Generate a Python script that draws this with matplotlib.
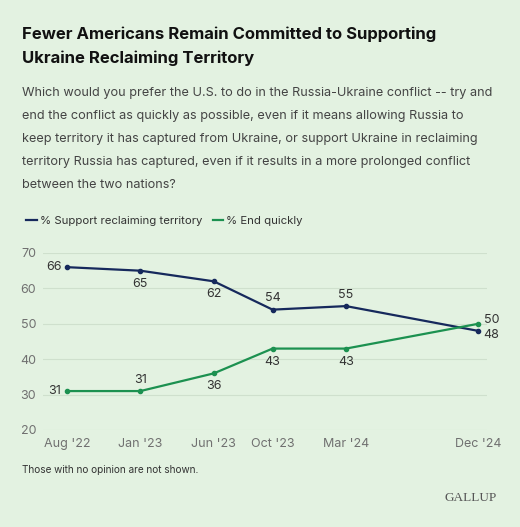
import matplotlib
matplotlib.use("Agg")
import matplotlib.pyplot as plt
from matplotlib.lines import Line2D

months = [0, 5, 10, 14, 19, 28]
tick_labels = ["Aug '22", "Jan '23", "Jun '23", "Oct '23", "Mar '24", "Dec '24"]
support = [66, 65, 62, 54, 55, 48]
end_quickly = [31, 31, 36, 43, 43, 50]
yticks = [20, 30, 40, 50, 60, 70]

BG = "#E3F2E1"
NAVY = "#16295C"
GREEN = "#1C9150"
GRAY = "#707070"
TXT = "#333333"

plt.rcParams['font.family'] = ['Inter', 'DejaVu Sans']

fig = plt.figure(figsize=(5.2, 5.27), dpi=100, facecolor=BG)
ax = fig.add_axes([43/520, 1-430/527, 444/520, 177/527], facecolor=BG)

ax.plot(months, support, color=NAVY, lw=1.6, marker='o', ms=3, clip_on=False, zorder=3)
ax.plot(months, end_quickly, color=GREEN, lw=1.6, marker='o', ms=3, clip_on=False, zorder=3)

ax.set_xlim(-1.63, 28.6)
ax.set_ylim(20, 70)
ax.set_yticks(yticks)
ax.set_xticks(months)
ax.set_xticklabels(tick_labels)
ax.tick_params(axis='both', length=0, labelsize=9, labelcolor=GRAY)
ax.tick_params(axis='y', pad=5)
ax.tick_params(axis='x', pad=6)
ax.grid(axis='y', color="#CFE0CD", lw=0.8)
ax.set_axisbelow(True)
for s in ax.spines.values():
    s.set_visible(False)

# data labels
sup_pos = ['left', 'below', 'below', 'above', 'above', 'right_below']
end_pos = ['left', 'above', 'below', 'below', 'below', 'right_above']

def label(x, y, pos):
    kw = dict(fontsize=9, color=TXT, textcoords='offset points', annotation_clip=False)
    if pos == 'left':
        ax.annotate(str(y), (x, y), xytext=(-4, 0), ha='right', va='center', **kw)
    elif pos == 'below':
        ax.annotate(str(y), (x, y), xytext=(0, -5), ha='center', va='top', **kw)
    elif pos == 'above':
        ax.annotate(str(y), (x, y), xytext=(0, 4), ha='center', va='bottom', **kw)
    elif pos == 'right_below':
        ax.annotate(str(y), (x, y), xytext=(4, -3), ha='left', va='center', **kw)
    elif pos == 'right_above':
        ax.annotate(str(y), (x, y), xytext=(4, 3), ha='left', va='center', **kw)

for x, y, p in zip(months, support, sup_pos):
    label(x, y, p)
for x, y, p in zip(months, end_quickly, end_pos):
    label(x, y, p)

# title and subtitle
fig.text(22/520, 1-46/527, "Fewer Americans Remain Committed to Supporting\nUkraine Reclaiming Territory",
         fontsize=12, fontweight='bold', color="#111111", va='center', ha='left', linespacing=1.7)
subtitle = ("Which would you prefer the U.S. to do in the Russia-Ukraine conflict -- try and\n"
            "end the conflict as quickly as possible, even if it means allowing Russia to\n"
            "keep territory it has captured from Ukraine, or support Ukraine in reclaiming\n"
            "territory Russia has captured, even if it results in a more prolonged conflict\n"
            "between the two nations?")
fig.text(22/520, 1-139/527, subtitle, fontsize=9.15, color="#444444", va='center', ha='left', linespacing=2.2)

# legend
handles = [Line2D([], [], color=NAVY, lw=1.6), Line2D([], [], color=GREEN, lw=1.6)]
leg = fig.legend(handles, ["% Support reclaiming territory", "% End quickly"],
                 loc='center left', bbox_to_anchor=(16/520, 1-221/527), frameon=False,
                 ncol=2, fontsize=8.2, handlelength=0.9, handletextpad=0.3, columnspacing=0.9,
                 labelcolor="#333333")

fig.text(22/520, 1-470/527, "Those with no opinion are not shown.", fontsize=7.2, color="#333333",
         va='center', ha='left')
fig.text(497/520, 1-498/527, "GALLUP", fontsize=9.5, color="#555555", va='center', ha='right',
         family=['Liberation Serif', 'DejaVu Serif'])

fig.savefig("out.png", dpi=100, facecolor=BG)
